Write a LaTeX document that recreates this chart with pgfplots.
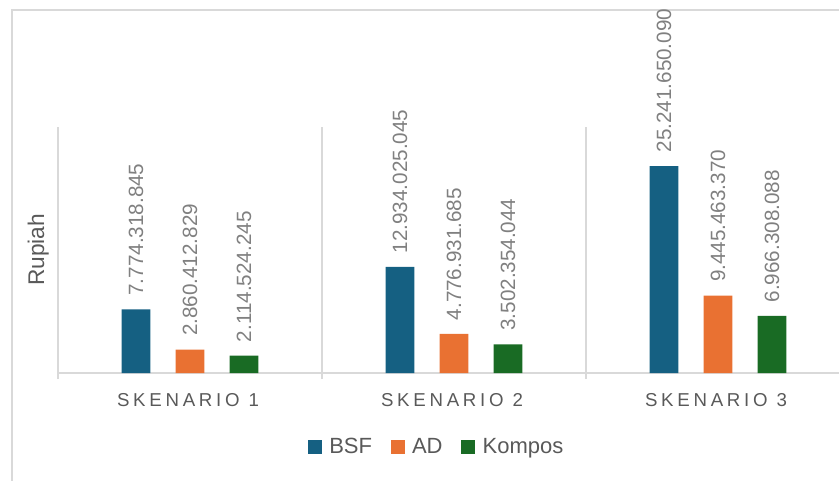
\documentclass[border=0pt]{standalone}
\usepackage{pgfplots}
\pgfplotsset{compat=1.18}
\usepackage{fontspec}
\setmainfont{Liberation Sans}
\definecolor{cBSF}{HTML}{156082}
\definecolor{cAD}{HTML}{E97132}
\definecolor{cKom}{HTML}{196B24}
\definecolor{gridc}{HTML}{D9D9D9}
\definecolor{txt}{HTML}{595959}
\definecolor{lbl}{HTML}{808080}
\begin{document}
\begin{tikzpicture}
\clip (0,0) rectangle (629.25pt,360pt);
\useasboundingbox (0,0) rectangle (629.25pt,360pt);
\draw[gridc, line width=0.8pt] (9pt,-5pt) -- (9pt,352.5pt) -- (640pt,352.5pt);
\begin{axis}[
  at={(43.5pt,80.25pt)}, anchor=south west,
  scale only axis, width=594pt, height=184.5pt,
  ybar=19.1pt, bar width=21.4pt,
  xmin=-0.5, xmax=2.5, ymin=0, ymax=30000000000,
  enlarge x limits=false, enlarge y limits=false,
  clip=false,
  axis x line*=bottom, axis y line*=left,
  x axis line style={draw=gridc, line width=0.8pt},
  y axis line style={draw=none},
  ytick=\empty,
  xtick={0,1,2},
  xticklabels={SKENARIO 1,SKENARIO 2,SKENARIO 3},
  major tick length=0pt,
  xticklabel style={font=\fontsize{14}{16}\selectfont\addfontfeature{LetterSpace=20}, text=txt, yshift=-12pt, xshift=-1.5pt},
  extra x ticks={-0.5,0.5,1.5,2.5},
  extra x tick labels={},
  extra x tick style={grid=major, major grid style={draw=gridc, line width=0.8pt}, tick style={draw=gridc, line width=0.8pt}, major tick length=4.5pt, tick align=outside},
  ylabel={Rupiah},
  ylabel style={at={(axis description cs:-0.025,0.5)}, anchor=center, font=\fontsize{17}{20}\selectfont, text=txt},
  nodes near coords,
  point meta=explicit symbolic,
  nodes near coords style={rotate=90, anchor=west, font=\fontsize{15.5}{18}\selectfont, text=lbl, inner xsep=10pt, inner ysep=0pt},
  legend style={at={(axis description cs:0.4785,-0.3008)}, anchor=center, draw=none, fill=none, font=\fontsize{16.5}{19}\selectfont, text=txt, /tikz/every even column/.append style={column sep=12pt}, /tikz/every odd column/.append style={column sep=3.5pt}},
  legend columns=-1,
  legend image code/.code={\fill[#1] (0pt,-5.5pt) rectangle (10.5pt,5pt);},
]
\addplot[fill=cBSF, draw=none] table[x=x, y=y, meta=label] {
x y label
0 7774318845 7.774.318.845
1 12934025045 12.934.025.045
2 25241650090 25.241.650.090
};
\addplot[fill=cAD, draw=none] table[x=x, y=y, meta=label] {
x y label
0 2860412829 2.860.412.829
1 4776931685 4.776.931.685
2 9445463370 9.445.463.370
};
\addplot[fill=cKom, draw=none] table[x=x, y=y, meta=label] {
x y label
0 2114524245 2.114.524.245
1 3502354044 3.502.354.044
2 6966308088 6.966.308.088
};
\legend{BSF,AD,Kompos}
\end{axis}
\end{tikzpicture}
\end{document}
